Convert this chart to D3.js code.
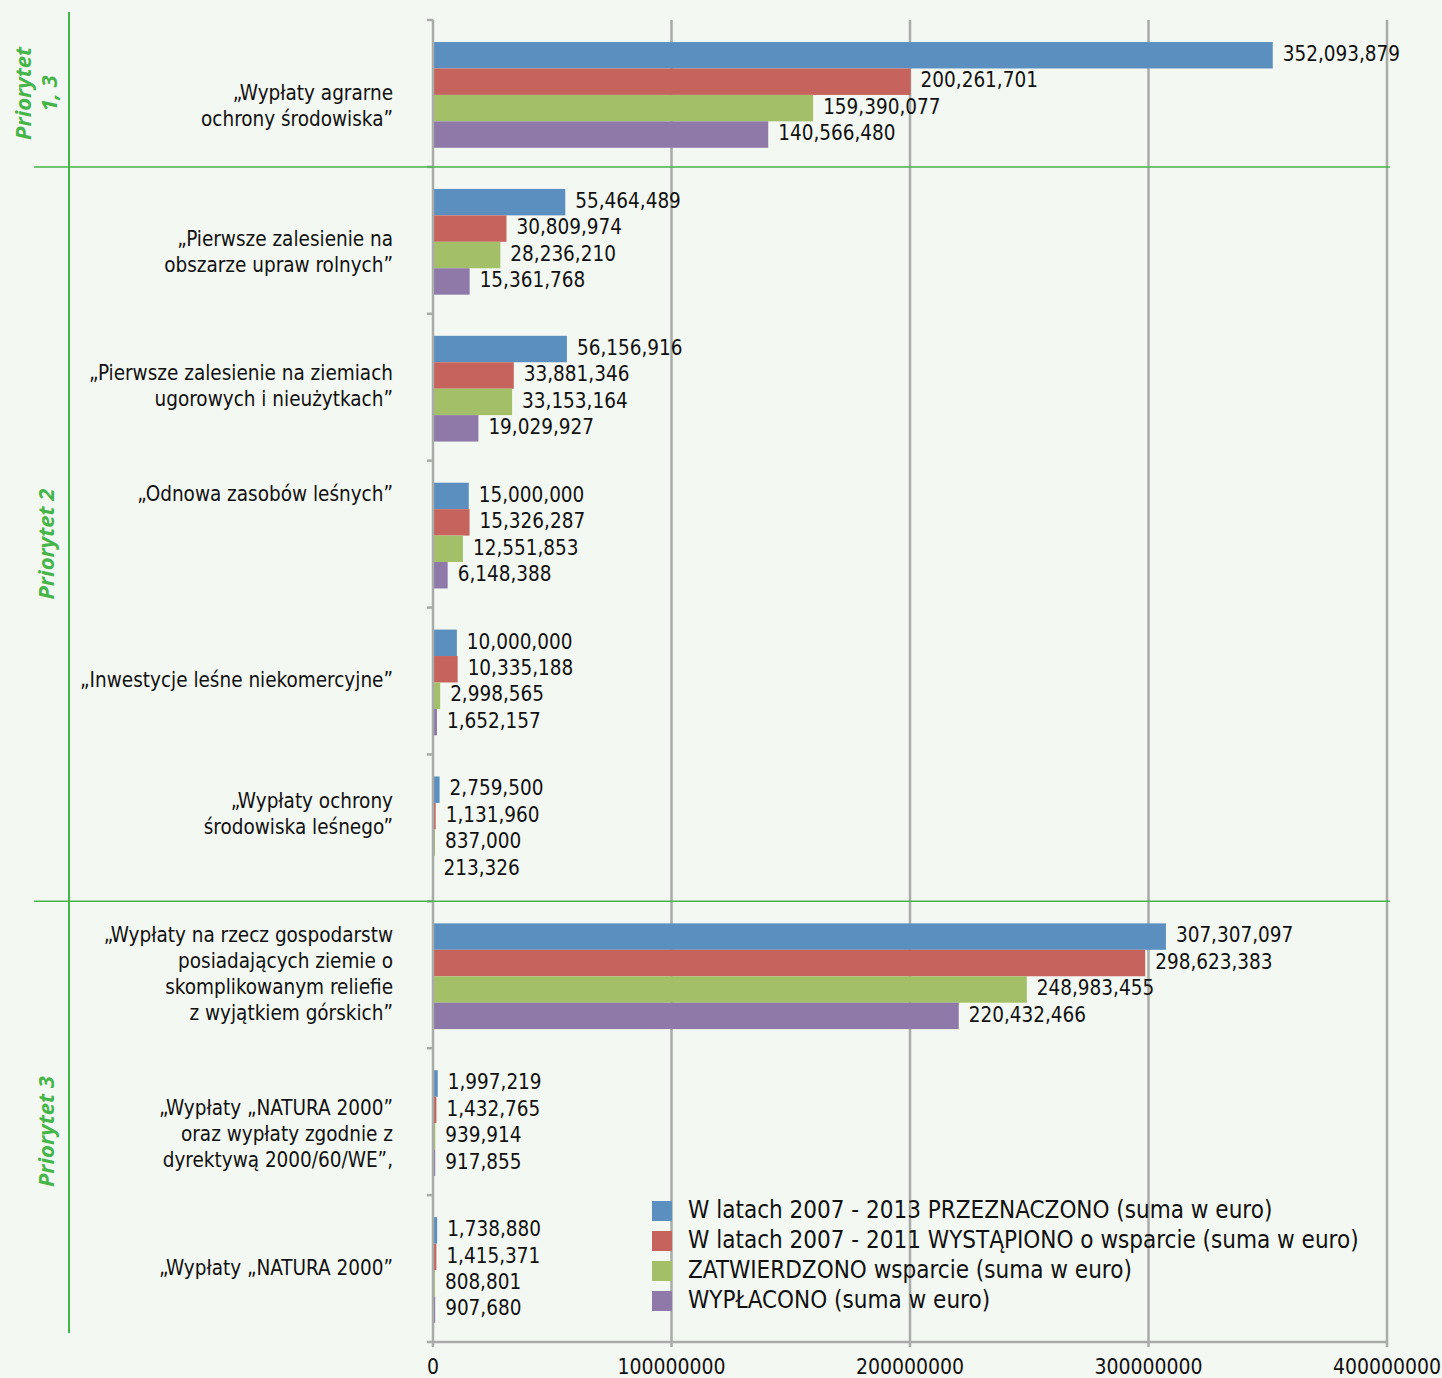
<!DOCTYPE html>
<html>
<head>
<meta charset="utf-8">
<script src="https://cdn.jsdelivr.net/npm/d3@7"></script>
<style>
  body { margin: 0; background: #f4f8f2; }
  svg { display: block; }
</style>
</head>
<body>
<svg id="chart"></svg>
<script>
// blank lines keep the label placement of the original spreadsheet
var categories = [
  ["", "„Wypłaty agrarne", "ochrony środowiska”"],
  ["", "„Pierwsze zalesienie na", "obszarze upraw rolnych”"],
  ["„Pierwsze zalesienie na ziemiach", "ugorowych i nieużytkach”"],
  ["„Odnowa zasobów leśnych”", "", "", ""],
  ["„Inwestycje leśne niekomercyjne”"],
  ["„Wypłaty ochrony", "środowiska leśnego”", ""],
  ["„Wypłaty na rzecz gospodarstw", "posiadających ziemie o", "skomplikowanym reliefie", "z wyjątkiem górskich”"],
  ["", "„Wypłaty „NATURA 2000”", "oraz wypłaty zgodnie z", "dyrektywą 2000/60/WE”,"],
  ["„Wypłaty „NATURA 2000”"]
];

var seriesNames = [
  "W latach 2007 - 2013 PRZEZNACZONO (suma w euro)",
  "W latach 2007 - 2011 WYSTĄPIONO o wsparcie (suma w euro)",
  "ZATWIERDZONO wsparcie (suma w euro)",
  "WYPŁACONO (suma w euro)"
];

var przeznaczono = [352093879, 55464489, 56156916, 15000000, 10000000, 2759500, 307307097, 1997219, 1738880];
var wystapiono = [200261701, 30809974, 33881346, 15326287, 10335188, 1131960, 298623383, 1432765, 1415371];
var zatwierdzono = [159390077, 28236210, 33153164, 12551853, 2998565, 837000, 248983455, 939914, 808801];
var wyplacono = [140566480, 15361768, 19029927, 6148388, 1652157, 213326, 220432466, 917855, 907680];

var xTicks = [0, 100000000, 200000000, 300000000, 400000000];

// priority groups: label lines, first and last category index
var priorities = [
  { lines: ["Priorytet", "1, 3"], from: 0, to: 0 },
  { lines: ["Priorytet 2"], from: 1, to: 5 },
  { lines: ["Priorytet 3"], from: 6, to: 8 }
];

var colors = ["#5b8fbf", "#c5635c", "#a3bf68", "#8e79a9"];
var seriesValues = [przeznaczono, wystapiono, zatwierdzono, wyplacono];

var width = 1442, height = 1378;
var margin = { top: 20, left: 433, right: 55, bottom: 36 };
var font = "'DejaVu Sans Condensed', 'DejaVu Sans', sans-serif";

var svg = d3.select("#chart").attr("width", width).attr("height", height);
svg.append("rect").attr("width", width).attr("height", height).attr("fill", "#f4f8f2");

var x = d3.scaleLinear().domain([0, 400000000]).range([margin.left, width - margin.right]);
var y = d3.scaleBand().domain(d3.range(categories.length)).range([margin.top, height - margin.bottom]);
var inner = d3.scaleBand().domain(d3.range(4))
  .range([y.bandwidth() * 0.15, y.bandwidth() * 0.87]);

var yBottom = height - margin.bottom;

// gridlines
svg.selectAll("line.grid")
  .data(xTicks.slice(1))
  .enter()
  .append("line")
  .attr("class", "grid")
  .attr("x1", function (d) { return x(d); })
  .attr("x2", function (d) { return x(d); })
  .attr("y1", margin.top)
  .attr("y2", yBottom + 5)
  .attr("stroke", "#a9aba8")
  .attr("stroke-width", 2.5);

// bars
var groups = svg.selectAll("g.cat")
  .data(categories)
  .enter()
  .append("g")
  .attr("class", "cat")
  .attr("transform", function (d, i) { return "translate(0," + y(i) + ")"; });

seriesValues.forEach(function (vals, s) {
  groups.append("rect")
    .attr("x", x(0))
    .attr("y", inner(s))
    .attr("width", function (d, i) { return x(vals[i]) - x(0); })
    .attr("height", inner.bandwidth())
    .attr("fill", colors[s]);

  groups.append("text")
    .attr("x", function (d, i) { return x(vals[i]) + 10; })
    .attr("y", inner(s) + inner.bandwidth() / 2)
    .attr("dy", "0.28em")
    .attr("font-family", font)
    .attr("font-size", "20.5px")
    .attr("fill", "#111")
    .text(function (d, i) { return d3.format(",")(vals[i]); });
});

// category labels
groups.each(function (lines) {
  var lh = 26;
  var t = d3.select(this).append("text")
    .attr("text-anchor", "end")
    .attr("font-family", font)
    .attr("font-size", "20.5px")
    .attr("fill", "#111");
  var startY = y.bandwidth() / 2 - (lines.length - 1) * lh / 2;
  lines.forEach(function (line, k) {
    t.append("tspan")
      .attr("x", 393)
      .attr("y", startY + k * lh)
      .attr("dy", "0.3em")
      .text(line);
  });
});

// axes
var axisColor = "#a9aba8";
svg.append("line")
  .attr("x1", x(0)).attr("x2", x(0))
  .attr("y1", margin.top).attr("y2", yBottom + 5)
  .attr("stroke", axisColor).attr("stroke-width", 2.5);
svg.append("line")
  .attr("x1", x(0) - 6).attr("x2", x(400000000))
  .attr("y1", yBottom).attr("y2", yBottom)
  .attr("stroke", axisColor).attr("stroke-width", 2.5);
svg.selectAll("line.ytick")
  .data(d3.range(categories.length))
  .enter()
  .append("line")
  .attr("x1", x(0) - 6).attr("x2", x(0))
  .attr("y1", function (d) { return y(d); })
  .attr("y2", function (d) { return y(d); })
  .attr("stroke", axisColor).attr("stroke-width", 2.5);

svg.selectAll("text.xtick")
  .data(xTicks)
  .enter()
  .append("text")
  .attr("x", function (d) { return x(d); })
  .attr("y", yBottom + 25)
  .attr("dy", "0.34em")
  .attr("text-anchor", "middle")
  .attr("font-family", font)
  .attr("font-size", "21px")
  .attr("fill", "#111")
  .text(function (d) { return d; });

// priority separators
var green = "#45b549";
svg.append("line")
  .attr("x1", 69).attr("x2", 69)
  .attr("y1", 12).attr("y2", yBottom - 9)
  .attr("stroke", green).attr("stroke-width", 2);
svg.selectAll("line.sep")
  .data(priorities.slice(1))
  .enter()
  .append("line")
  .attr("x1", 34).attr("x2", 1390)
  .attr("y1", function (d) { return y(d.from); })
  .attr("y2", function (d) { return y(d.from); })
  .attr("stroke", green).attr("stroke-width", 1.5);

priorities.forEach(function (p) {
  var cy = (y(p.from) + y(p.to) + y.bandwidth()) / 2 + (p.lines.length > 1 ? 0 : 10);
  var t = svg.append("text")
    .attr("transform", "translate(36," + cy + ") rotate(-90)")
    .attr("text-anchor", "middle")
    .attr("font-family", "'Open Sans', sans-serif")
    .attr("font-weight", "bold")
    .attr("font-style", "italic")
    .attr("font-size", "22px")
    .attr("fill", green);
  p.lines.forEach(function (line, k) {
    t.append("tspan")
      .attr("x", 0)
      .attr("y", (p.lines.length > 1 ? (k - 0.5) * 26 : 10))
      .attr("dy", "0.36em")
      .text(line);
  });
});

// legend
var legend = svg.append("g").attr("transform", "translate(652,1201)");
seriesNames.forEach(function (name, s) {
  legend.append("rect")
    .attr("x", 0).attr("y", s * 30)
    .attr("width", 20).attr("height", 20)
    .attr("fill", colors[s]);
  legend.append("text")
    .attr("x", 36).attr("y", s * 30 + 9)
    .attr("dy", "0.34em")
    .attr("font-family", font)
    .attr("font-size", "24px")
    .attr("fill", "#111")
    .text(name);
});
</script>
</body>
</html>
